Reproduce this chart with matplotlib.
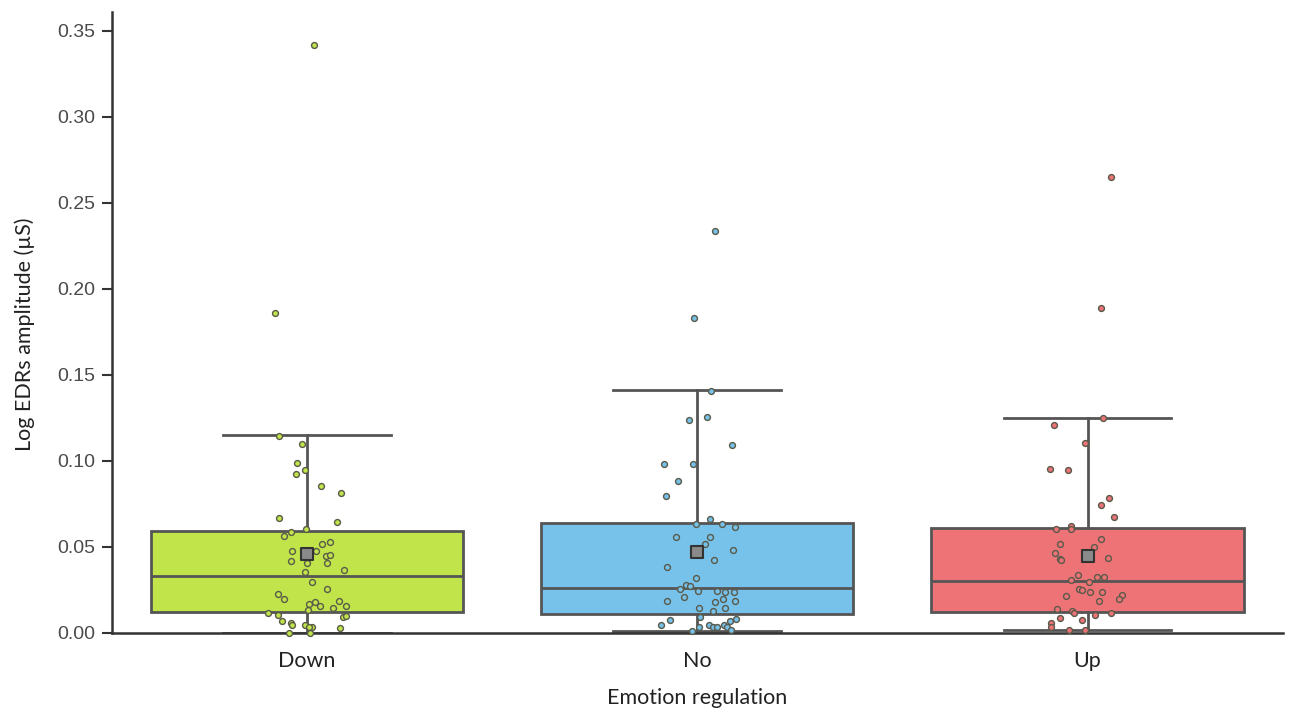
import matplotlib
matplotlib.use('Agg')
import matplotlib.pyplot as plt

# groups and colours
grupos = ['Down', 'No', 'Up']
cores = ['#c0e44a', '#76c2ea', '#ee7377']

# box statistics: lower whisker, Q1, median, Q3, upper whisker, mean
bigode_inf = [0.000, 0.001, 0.002]
q1 = [0.012, 0.011, 0.012]
mediana = [0.033, 0.026, 0.030]
q3 = [0.059, 0.064, 0.061]
bigode_sup = [0.115, 0.141, 0.125]
media = [0.046, 0.047, 0.045]

# individual points (value, horizontal jitter in pixels of the original)
down_vals = [0.342, 0.186, 0.1147, 0.1097, 0.0987, 0.0946, 0.0926, 0.0855, 0.0816, 0.0667,
             0.0645, 0.0605, 0.0585, 0.0564, 0.0516, 0.0527, 0.0477, 0.0479, 0.0450, 0.0456,
             0.0417, 0.0407, 0.0407, 0.0366, 0.0357, 0.0297, 0.0256, 0.0229, 0.0196, 0.0169,
             0.0178, 0.0157, 0.0186, 0.0157, 0.0145, 0.0134, 0.0118, 0.0105, 0.0095, 0.0099,
             0.0068, 0.0060, 0.0045, 0.0045, 0.0035, 0.0035, 0.0027, 0.0, 0.0]
down_jit = [7, -32, -28, -5, -10, -2, -11, 14, 34, -28,
            30, -1, -16, -23, 15, 23, -15, 9, 19, 23,
            -16, 0, 20, 37, -2, 5, 20, -29, -23, 2,
            8, 13, 32, 39, 26, 1, -39, -29, 36, 39,
            -25, -16, -15, -2, 5, 2, 33, -18, 3]

no_vals = [0.234, 0.183, 0.1407, 0.1256, 0.1236, 0.1095, 0.0984, 0.0984, 0.0886, 0.0797,
           0.0665, 0.0636, 0.0636, 0.0616, 0.0556, 0.0556, 0.0516, 0.0485, 0.0426, 0.0384,
           0.0318, 0.0277, 0.0275, 0.0256, 0.0246, 0.0246, 0.0238, 0.0238, 0.0208, 0.0198,
           0.0188, 0.0188, 0.0178, 0.0147, 0.0147, 0.0130, 0.0095, 0.0077, 0.0080, 0.0068,
           0.0047, 0.0047, 0.0037, 0.0037, 0.0045, 0.0033, 0.0033, 0.0012, 0.0016]
no_jit = [18, -3, 14, 10, -8, 35, -33, -4, -19, -31,
          13, -1, 25, 38, -21, 13, 8, 36, 17, -30,
          -1, -11, -7, -17, 1, 20, 28, 37, -13, 26,
          -30, 38, 18, 2, 28, 16, 3, -27, 39, 33,
          -36, 12, 16, 20, 27, 2, 30, -5, 34]

up_vals = [0.265, 0.189, 0.1248, 0.1207, 0.1107, 0.0955, 0.0946, 0.0787, 0.0746, 0.0676,
           0.0607, 0.0624, 0.0605, 0.0547, 0.0516, 0.0500, 0.0465, 0.0428, 0.0423, 0.0434,
           0.0339, 0.0327, 0.0327, 0.0306, 0.0297, 0.0256, 0.0248, 0.0238, 0.0238, 0.0217,
           0.0219, 0.0196, 0.0188, 0.0138, 0.0130, 0.0114, 0.0105, 0.0118, 0.0087, 0.0076,
           0.0056, 0.0037, 0.0017, 0.0017]
up_jit = [23, 13, 15, -34, -3, -38, -20, 21, 13, 26,
          -32, -17, -17, 13, -28, 6, -33, -28, -27, 20,
          -10, 9, 16, -17, 1, -9, -6, 2, 14, -22,
          34, 31, 11, -31, -16, -14, 7, 23, -28, -6,
          -37, -37, -19, -3]

valores = [down_vals, no_vals, up_vals]
jitters = [down_jit, no_jit, up_jit]

fig = plt.figure(figsize=(12.95, 7.1), dpi=100)
ax = fig.add_axes([0.0865, 0.1085, 0.904, 0.8745])

stats = []
for i in range(3):
    stats.append({'whislo': bigode_inf[i], 'q1': q1[i], 'med': mediana[i],
                  'q3': q3[i], 'whishi': bigode_sup[i], 'fliers': []})

cinza = '#555555'
bp = ax.bxp(stats, positions=range(3), widths=0.8, patch_artist=True, showfliers=False,
            boxprops=dict(edgecolor=cinza, linewidth=2),
            medianprops=dict(color=cinza, linewidth=2),
            whiskerprops=dict(color=cinza, linewidth=2),
            capprops=dict(color=cinza, linewidth=2), capwidths=0.43)
for caixa, c in zip(bp['boxes'], cores):
    caixa.set_facecolor(c)

for i in range(3):
    xs = [i + j / 391.0 for j in jitters[i]]
    ax.scatter(xs, valores[i], s=18, facecolor=cores[i], edgecolor='#5a5a4a',
               linewidths=1.0, zorder=3, clip_on=False)
    ax.scatter([i], [media[i]], marker='s', s=80, facecolor='#8a8a8a',
               edgecolor='#333333', linewidths=1.5, zorder=4)

ax.set_xlim(-0.5, 2.5)
ax.set_ylim(0, 0.361)
ax.set_yticks([0, 0.05, 0.10, 0.15, 0.20, 0.25, 0.30, 0.35])
ax.set_yticklabels(['%.2f' % v for v in ax.get_yticks()], fontsize=14,
                   family='Liberation Sans', color='#4a4a4a')
ax.set_xticks(range(3))
ax.set_xticklabels(grupos, fontsize=15.5, family='Lato', color='#222222')
ax.tick_params(axis='x', length=0, pad=13)
ax.tick_params(axis='y', length=7, width=1.5, color='#333333', pad=5)
for lado in ['top', 'right']:
    ax.spines[lado].set_visible(False)
for lado in ['left', 'bottom']:
    ax.spines[lado].set_linewidth(1.8)
    ax.spines[lado].set_color('#333333')

ax.set_xlabel('Emotion regulation', fontsize=15.5, family='Lato', color='#222222', labelpad=12)
ax.set_ylabel('Log EDRs amplitude (µS)', fontsize=15.5, family='Lato', color='#222222')
ax.yaxis.set_label_coords(-0.0655, 0.481)

plt.savefig('out.png', dpi=100)
plt.close()
